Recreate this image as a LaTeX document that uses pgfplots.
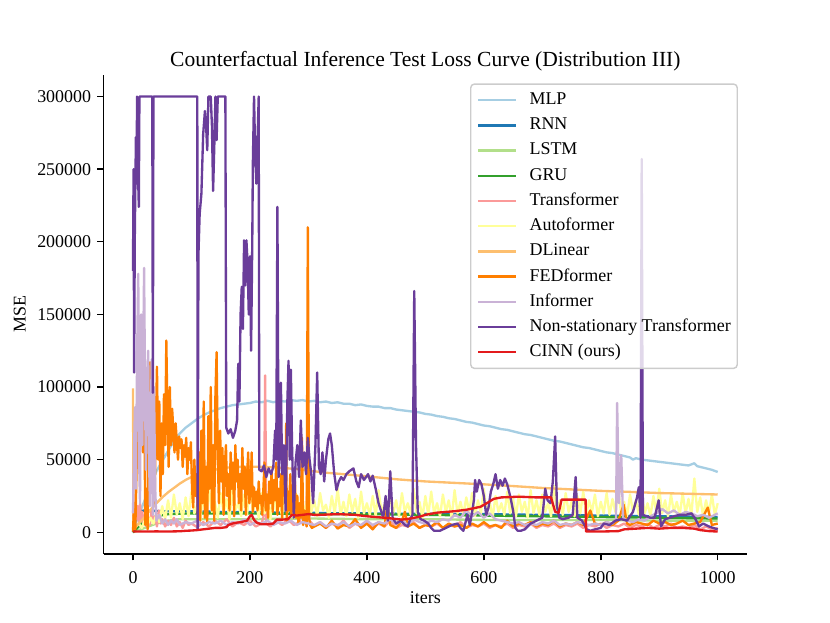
\documentclass[border=0pt]{standalone}
\usepackage{fontspec}
\setmainfont{Liberation Serif}
\usepackage{pgfplots}
\pgfplotsset{compat=1.18}
\definecolor{cMLP}{HTML}{A6CEE3}
\definecolor{cRNN}{HTML}{1F78B4}
\definecolor{cLSTM}{HTML}{B2DF8A}
\definecolor{cGRU}{HTML}{33A02C}
\definecolor{cTrans}{HTML}{FB9A99}
\definecolor{cAuto}{HTML}{FFFF99}
\definecolor{cDLin}{HTML}{FDBF6F}
\definecolor{cFED}{HTML}{FF7F00}
\definecolor{cInf}{HTML}{CAB2D6}
\definecolor{cNST}{HTML}{6A3D9A}
\definecolor{cCINN}{HTML}{E31A1C}
\definecolor{legframe}{HTML}{CCCCCC}
\begin{document}
\begin{tikzpicture}
\path[use as bounding box] (0,0) rectangle (460.8bp,345.6bp);
\begin{axis}[
  at={(57.6bp,38bp)}, anchor=south west,
  width=357.1bp, height=266.1bp, scale only axis,
  xmin=-50, xmax=1050, ymin=-15000, ymax=315000,
  axis x line*=bottom, axis y line*=left,
  axis line style={-, line width=0.8bp, black},
  tick align=outside, major tick length=3.5bp,
  tick style={line width=0.8bp, black},
  xtick={0,200,400,600,800,1000},
  ytick={0,50000,100000,150000,200000,250000,300000},
  scaled y ticks=false, scaled x ticks=false,
  /pgf/number format/assume math mode=true,
  /pgf/number format/1000 sep={},
  /pgf/number format/fixed,
  tick label style={font=\fontsize{10}{12}\selectfont},
  xticklabel style={yshift=-2.8bp},
  title={Counterfactual Inference Test Loss Curve (Distribution III)},
  title style={at={(axis description cs:0.5,0.995)}, anchor=base, font=\fontsize{12}{14}\selectfont},
  xlabel={iters},
  xlabel style={at={(axis description cs:0.5,-0.104)}, anchor=base, font=\fontsize{10}{12}\selectfont},
  ylabel={MSE},
  ylabel style={at={(axis description cs:-0.1305,0.5)}, anchor=center, rotate=0, font=\fontsize{10}{12}\selectfont},
  legend style={at={(axis description cs:0.986,0.982)}, anchor=north east,
    draw=legframe, line width=0.8bp, rounded corners=2bp, fill=white, fill opacity=0.8,
    draw opacity=1, text opacity=1, inner xsep=3.6bp, inner ysep=1.9bp,
    font=\fontsize{10}{12}\selectfont, row sep=0pt, column sep=0pt,
    nodes={inner xsep=0bp, inner ysep=2.25bp, text height=7.2bp, text depth=2.3bp}},
  legend cell align=left,
  legend image code/.code={\path[draw=none, fill=none] (0bp,0bp) -- (28.4bp,0bp); \draw[#1, line width=1.3bp, rounded corners=0pt] (0bp,0bp) -- (21bp,0bp);},
  every axis plot/.append style={line width=1.3bp, line join=round},
]
% MLP
\addplot[cMLP] coordinates {(0,2000) (5,7000) (10,12000) (15,17000) (20,22000) (25,27000) (30,32000) (35,37000) (40,42000) (45,45500) (50,49000) (55,52500) (60,56000) (65,59500) (70,62500) (75,65500) (80,68000) (85,70000) (90,72000) (95,73500) (100,75000) (110,78000) (120,80500) (130,82500) (140,84000) (150,85500) (160,86500) (170,87500) (180,88000) (190,88500) (200,89000) (210,90000) (220,89500) (230,90500) (240,89500) (250,90500) (260,90000) (270,91000) (280,90500) (290,91000) (300,90000) (310,90500) (320,89500) (330,90000) (340,89000) (350,89500) (360,88500) (370,88500) (380,87500) (390,88000) (400,87000) (410,86500) (420,86500) (430,85500) (440,85500) (450,84500) (460,84000) (470,83500) (480,83000) (490,82500) (500,81500) (510,81000) (520,80000) (530,79500) (540,78500) (550,78000) (560,77000) (570,76000) (580,75500) (590,74500) (600,73500) (610,73000) (620,72000) (630,71000) (640,70500) (650,69500) (660,68500) (670,67500) (680,67000) (690,66000) (700,65000) (710,64000) (720,63000) (730,62500) (740,61500) (750,60500) (760,59500) (770,58500) (780,58000) (790,57000) (800,56000) (810,55000) (820,54500) (830,53500) (840,52500) (850,51500) (855,50000) (860,51000) (870,50000) (880,49500) (890,49000) (900,48500) (910,48000) (920,47500) (930,47000) (940,46500) (950,46000) (960,47500) (965,45500) (970,45000) (980,44000) (990,43000) (1000,41500)};
\addlegendentry{MLP}
% RNN
\addplot[cRNN] coordinates {(0,0) (3,6000) (6,12000) (10,14500) (20,15000) (50,14500) (100,14500) (150,14000) (200,14000) (250,13500) (300,13500) (350,13000) (400,13000) (450,12800) (500,12800) (550,12500) (600,12500) (650,12200) (700,12000) (750,11800) (800,11500) (850,11200) (900,11000) (950,10800) (1000,10500)};
\addlegendentry{RNN}
% LSTM
\addplot[cLSTM] coordinates {(0,0) (10,1500) (20,3000) (30,4500) (40,6000) (60,8000) (80,9000) (100,9000) (200,9000) (300,9500) (400,9000) (500,9000) (600,8500) (700,8500) (800,8500) (900,8000) (1000,8000)};
\addlegendentry{LSTM}
% GRU
\addplot[cGRU] coordinates {(0,0) (5,2000) (10,4000) (15,6000) (20,7500) (30,9500) (40,11000) (60,12500) (100,13000) (200,13000) (300,12500) (400,12500) (500,12000) (600,11500) (700,11000) (800,10500) (900,10000) (1000,9500)};
\addlegendentry{GRU}
% Transformer
\addplot[cTrans] coordinates {(0,15000) (2,5000) (4,26000) (6,9000) (8,18000) (10,6000) (12,20000) (14,8000) (16,14000) (18,5000) (20,12000) (23,4000) (26,10000) (29,5000) (32,16000) (35,6000) (38,11000) (41,4000) (44,15000) (47,6000) (50,9000) (55,4000) (60,8000) (65,5000) (70,10000) (75,4000) (80,7000) (85,3000) (90,8000) (95,5000) (100,6000) (110,3500) (120,7000) (130,4000) (140,8000) (150,5000) (160,9000) (170,4000) (180,7000) (190,5000) (200,8000) (210,4000) (220,6000) (224,12000) (226,108000) (228,6000) (235,4000) (245,8000) (255,5000) (265,9000) (275,5000) (285,7000) (290,20000) (295,6000) (300,44000) (302,8000) (310,4000) (320,7000) (330,3000) (340,6000) (350,4000) (360,8000) (370,3000) (380,6000) (390,4000) (400,7000) (410,3000) (420,6000) (430,4000) (440,8000) (450,3000) (460,5000) (470,4000) (480,7000) (490,3000) (500,5000) (510,4000) (520,6000) (530,3000) (540,5000) (550,4000) (560,7000) (570,3000) (580,5000) (590,4000) (600,6000) (610,3000) (620,5000) (630,4000) (640,6000) (650,3000) (660,5000) (670,4000) (680,6000) (690,3000) (700,5000) (710,4000) (720,6000) (730,3000) (740,5000) (750,4000) (760,6000) (770,3000) (780,5000) (790,4000) (800,6000) (810,3000) (820,5000) (830,4000) (840,6000) (850,3000) (860,5000) (870,4000) (880,6000) (890,3000) (900,5000) (910,4000) (920,6000) (930,3000) (940,4000) (950,3000) (960,5000) (970,2000) (980,4000) (990,2000) (1000,3000)};
\addlegendentry{Transformer}
% Autoformer
\addplot[cAuto] coordinates {(0,2000) (5,4000) (10,6000) (15,3000) (20,8000) (25,5000) (30,10000) (35,6000) (40,12000) (45,7000) (50,18000) (55,9000) (60,22000) (65,10000) (70,26000) (75,12000) (80,20000) (85,9000) (90,24000) (95,11000) (100,28000) (105,13000) (110,19000) (115,8000) (120,25000) (125,12000) (130,30000) (135,14000) (140,21000) (145,10000) (150,27000) (155,13000) (160,23000) (165,9000) (170,29000) (175,15000) (180,20000) (185,11000) (190,26000) (195,12000) (200,31000) (205,14000) (210,22000) (215,10000) (220,27000) (225,13000) (230,24000) (235,9000) (240,28000) (245,15000) (250,21000) (255,11000) (260,30000) (265,14000) (270,23000) (275,10000) (280,26000) (285,13000) (290,20000) (295,12000) (300,33000) (305,14000) (310,22000) (315,11000) (320,27000) (325,15000) (330,19000) (335,10000) (340,25000) (345,13000) (350,30000) (355,12000) (360,21000) (365,11000) (370,26000) (375,14000) (380,23000) (385,10000) (390,28000) (395,13000) (400,20000) (405,12000) (410,25000) (415,11000) (420,29000) (425,14000) (430,19000) (435,10000) (440,26000) (445,13000) (450,22000) (455,11000) (460,27000) (465,14000) (470,20000) (475,12000) (480,30000) (485,13000) (490,21000) (495,10000) (500,25000) (505,12000) (510,28000) (515,13000) (520,20000) (525,11000) (530,26000) (535,14000) (540,22000) (545,10000) (550,29000) (555,13000) (560,21000) (565,12000) (570,24000) (575,14000) (580,27000) (585,11000) (590,22000) (595,13000) (600,30000) (605,12000) (610,21000) (615,10000) (620,25000) (625,14000) (630,20000) (635,12000) (640,28000) (645,13000) (650,23000) (655,11000) (660,26000) (665,14000) (670,21000) (675,10000) (680,29000) (685,13000) (690,22000) (695,12000) (700,26000) (705,14000) (710,20000) (715,11000) (720,32000) (725,13000) (730,22000) (735,12000) (740,27000) (745,14000) (750,21000) (755,11000) (760,25000) (765,13000) (770,28000) (775,12000) (780,22000) (785,14000) (790,26000) (795,11000) (800,21000) (805,13000) (810,27000) (815,12000) (820,23000) (825,14000) (830,29000) (835,12000) (840,21000) (845,11000) (850,26000) (855,14000) (860,22000) (865,12000) (870,27000) (875,13000) (880,20000) (885,11000) (890,25000) (895,14000) (900,30000) (905,13000) (910,22000) (915,11000) (920,26000) (925,14000) (930,21000) (935,12000) (940,27000) (945,13000) (950,23000) (955,12000) (960,37000) (965,14000) (970,24000) (975,11000) (980,22000) (985,13000) (990,26000) (995,12000) (1000,20000)};
\addlegendentry{Autoformer}
% DLinear
\addplot[cDLin] coordinates {(0,99000) (1,3000) (5,4000) (10,6000) (20,10500) (30,15500) (40,20000) (50,24000) (60,27500) (70,30500) (80,33500) (90,36000) (100,38000) (110,39500) (120,41000) (130,42000) (140,43000) (150,44000) (160,44500) (180,45000) (200,45200) (220,45000) (250,44500) (280,43500) (300,42500) (330,41000) (360,40000) (400,38500) (450,36500) (500,35000) (550,34000) (600,33000) (650,31800) (700,30500) (750,29500) (800,28500) (850,27800) (900,27000) (950,26500) (1000,26000)};
\addlegendentry{DLinear}
% FEDformer
\addplot[cFED] coordinates {(0,500) (2,20000) (4,2000) (7,60000) (10,90000) (13,128000) (15,100000) (17,55000) (19,110000) (21,5000) (23,30000) (25,2000) (27,95000) (29,117000) (31,60000) (33,35000) (35,80000) (37,20000) (39,70000) (41,114000) (43,50000) (45,90000) (47,25000) (49,75000) (51,40000) (53,95000) (55,60000) (57,132000) (59,80000) (61,45000) (63,100000) (65,60000) (67,85000) (69,70000) (71,55000) (73,75000) (75,62000) (77,50000) (79,66000) (81,58000) (83,64000) (85,45000) (87,60000) (89,52000) (91,65000) (93,40000) (95,58000) (97,50000) (99,62000) (101,30000) (103,17000) (105,50000) (107,25000) (109,40000) (111,12000) (113,55000) (115,8000) (117,70000) (119,20000) (121,90000) (123,10000) (125,45000) (127,6000) (129,80000) (131,30000) (133,100000) (135,15000) (137,60000) (139,8000) (141,95000) (143,124000) (145,50000) (147,20000) (149,70000) (151,35000) (153,58000) (155,12000) (157,45000) (159,60000) (161,25000) (163,40000) (165,15000) (167,55000) (169,30000) (171,48000) (173,11000) (175,60000) (177,35000) (179,50000) (181,20000) (183,40000) (185,15000) (187,58000) (189,30000) (191,45000) (193,12000) (195,38000) (197,55000) (199,20000) (201,30000) (203,55000) (205,14000) (207,31000) (209,18000) (211,28000) (213,15000) (215,35000) (217,20000) (219,25000) (221,12000) (223,30000) (225,48000) (227,15000) (229,26000) (231,10000) (233,35000) (235,20000) (237,42000) (239,14000) (241,36000) (243,22000) (245,48000) (247,12000) (249,30000) (251,18000) (253,40000) (255,10000) (257,55000) (259,25000) (261,35000) (262,75000) (263,8000) (265,28000) (267,15000) (269,40000) (271,12000) (273,30000) (275,18000) (277,35000) (279,10000) (281,25000) (283,6000) (285,20000) (287,10000) (289,65000) (291,5000) (293,15000) (295,8000) (297,4000) (299,210000) (301,10000) (303,5000) (306,3000) (310,4000) (320,6000) (330,3000) (340,8000) (350,2500) (360,5000) (370,4000) (380,9000) (390,3000) (400,6000) (410,2000) (420,7000) (430,4000) (435,18000) (440,5000) (450,3000) (460,8000) (465,14000) (470,4000) (480,6000) (490,3000) (500,5000) (510,4000) (520,7000) (530,3000) (540,6000) (550,4000) (560,5000) (570,3000) (580,6000) (590,4000) (600,7000) (610,4000) (620,5000) (630,3000) (640,8000) (650,4000) (660,6000) (670,5000) (680,7000) (690,4000) (700,6000) (710,5000) (720,8000) (730,4000) (740,6000) (750,5000) (760,7000) (770,5000) (782,15000) (790,6000) (800,5000) (810,7000) (820,5000) (830,8000) (839,19000) (845,6000) (850,5000) (860,7000) (870,6000) (880,5000) (890,8000) (900,6000) (910,7000) (920,5000) (930,6000) (940,8000) (950,5000) (960,6000) (970,7000) (983,17000) (990,5000) (1000,6000)};
\addlegendentry{FEDformer}
% Informer
\addplot[cInf] coordinates {(0,13000) (2,60000) (3.4,86000) (5,30000) (7,120000) (9,178000) (11,40000) (12,20000) (14,150000) (16,60000) (19,182000) (21,80000) (22,43000) (24,100000) (26,125000) (28,40000) (29,18000) (31,90000) (32,119000) (34,12000) (36,100000) (38,30000) (40,8000) (45,12000) (50,6000) (55,9000) (60,5000) (65,8000) (70,6000) (75,9000) (80,5000) (90,7000) (100,6000) (110,8000) (120,5000) (130,7000) (140,6000) (150,8000) (160,5000) (170,7000) (180,6000) (190,9000) (200,5000) (210,7000) (220,6000) (230,8000) (240,5000) (250,7000) (260,6000) (270,8000) (280,5000) (290,7000) (300,6000) (310,5000) (320,7000) (330,4000) (340,6000) (350,5000) (360,7000) (370,4000) (380,6000) (390,5000) (400,8000) (410,5000) (420,7000) (430,6000) (440,9000) (450,6000) (460,8000) (470,5000) (480,9000) (490,7000) (500,6000) (510,8000) (520,7000) (530,9000) (540,8000) (550,12000) (560,10000) (570,15000) (580,11000) (590,14000) (600,10000) (610,13000) (620,9000) (630,8000) (640,7000) (650,6000) (660,7000) (670,5000) (680,6000) (690,5000) (700,7000) (710,6000) (720,8000) (730,5000) (740,6000) (750,5000) (760,7000) (770,6000) (780,5000) (790,6000) (800,5000) (810,7000) (820,6000) (826,9000) (828,89000) (831,20000) (835,53000) (838,10000) (845,8000) (855,7000) (865,9000) (875,8000) (885,11000) (895,13000) (905,16000) (915,13000) (925,15000) (935,12000) (945,14000) (955,13000) (965,11000) (975,12000) (985,10000) (995,12000) (1000,13000)};
\addlegendentry{Informer}
% Non-stationary Transformer
\addplot[cNST] coordinates {(0,180000) (1,250000) (2,110000) (3,200000) (5,272000) (6,240000) (7,300000) (9,240000) (10,224000) (11,300000) (33,300000) (34,96000) (35,300000) (110,300000) (110.5,2000) (112,192000) (114,219000) (117,233000) (120,274000) (123,290000) (125,280000) (127,263000) (129,300000) (133,300000) (135,280000) (137,235000) (139,265000) (141,300000) (143,270000) (145,300000) (158,300000) (159.5,72000) (163,68000) (167,71000) (171,65000) (175,70000) (178,77000) (180,116000) (182,90000) (184,150000) (186,169000) (188,140000) (190,201000) (192,170000) (194,201000) (196,185000) (198,150000) (200,190000) (202,125000) (204,200000) (205,254000) (207,300000) (209,260000) (211,240000) (213,270000) (215,300000) (216,43000) (220,42000) (224,46000) (228,38000) (232,44000) (236,40000) (240,45000) (243,70000) (245,50000) (247,224000) (249,38000) (251,60000) (253,103000) (255,40000) (258,60000) (261,15000) (264,90000) (266,118000) (268,50000) (270,112000) (272,60000) (275,10000) (278,48000) (281,60000) (284,38000) (287,77000) (290,45000) (293,55000) (296,40000) (299,65000) (302,50000) (305,40000) (308,20000) (312,60000) (315,110000) (318,45000) (321,40000) (324,55000) (327,35000) (330,50000) (334,64000) (337,68000) (340,60000) (344,41000) (348,29000) (352,35000) (356,38000) (360,36000) (365,40000) (370,42000) (377,44000) (382,35000) (386,31000) (390,40000) (395,36000) (402,40000) (406,35000) (410,39000) (415,30000) (420,20000) (424,15000) (428,10000) (432,25000) (436,8000) (440,42000) (444,10000) (450,6000) (458,8000) (465,5000) (470,4000) (474,9000) (478,12000) (481,166000) (484,60000) (487,14000) (492,9000) (498,8000) (505,6000) (510,3000) (515,1000) (525,1000) (535,3000) (545,5000) (555,6000) (560,3000) (565,1000) (572,12000) (576,5000) (580,14000) (583,22000) (585,36000) (588,28000) (592,36000) (596,33000) (600,25000) (604,12000) (608,17000) (612,28000) (616,33000) (620,40000) (624,30000) (628,36000) (632,32000) (636,37000) (640,33000) (645,25000) (650,15000) (654,3000) (658,1000) (663,1000) (670,2000) (680,6000) (690,8000) (700,10000) (705,30000) (709,22000) (714,20000) (718,35000) (722,66000) (725,18000) (729,10000) (735,9000) (745,10000) (752,12000) (757,38000) (760,10000) (768,8000) (776,2000) (782,1000) (790,2000) (800,3000) (805,6000) (815,5000) (825,8000) (835,9000) (845,8000) (855,14000) (862,24000) (865,31000) (868,10000) (870,257000) (872,12000) (878,11000) (885,10000) (892,10000) (899,22000) (903,4000) (910,9000) (918,10000) (925,11000) (935,12000) (945,12000) (955,13000) (962,9000) (968,4000) (975,6000) (985,4000) (992,3000) (1000,2000)};
\addlegendentry{Non-stationary Transformer}
% CINN
\addplot[cCINN] coordinates {(0,500) (20,500) (40,600) (60,500) (80,700) (90,1000) (100,1200) (110,1500) (120,2000) (130,2500) (140,3000) (150,3000) (160,3500) (163,5000) (170,6000) (175,6500) (185,7000) (195,8000) (200,11000) (203,12000) (207,8500) (212,6500) (220,5500) (230,5500) (240,6000) (246,8700) (255,8700) (265,9000) (272,12000) (280,11500) (300,12500) (310,12000) (320,12000) (350,12500) (380,12000) (400,11000) (430,10000) (460,8700) (475,9500) (490,10700) (500,12000) (520,13500) (550,14500) (570,15500) (594,17500) (605,20000) (617,23000) (630,24000) (660,24500) (690,24000) (715,24000) (722,14000) (728,13500) (733,22500) (750,22500) (774,22500) (775,500) (800,500) (830,800) (840,2000) (860,2500) (880,3000) (900,2500) (920,3000) (940,3000) (960,2500) (970,1500) (985,800) (1000,500)};
\addlegendentry{CINN (ours)}
\end{axis}
\end{tikzpicture}
\end{document}
